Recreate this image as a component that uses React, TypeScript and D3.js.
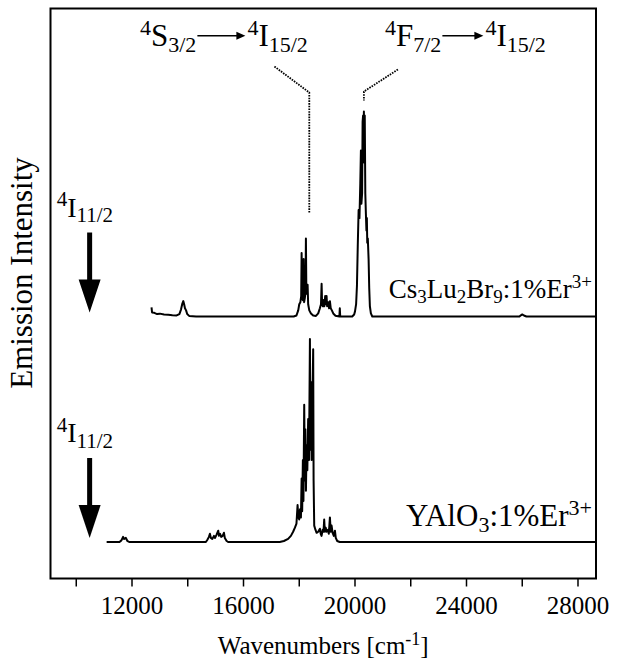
import React, { useEffect, useRef } from "react"
import * as d3 from "d3"

// emission spectra: [wavenumber (cm-1), intensity (a.u., max ~100)]
const cs3Lu2Br9: [number, number][] = [
  [12700, 4.5], [12720, 2], [12800, 1.8], [12900, 1.2], [13000, 1.4], [13150, 1],
  [13300, 0.8], [13450, 0.6], [13600, 0.5], [13700, 1.2], [13760, 3.5], [13800, 6],
  [13840, 7.5], [13870, 6], [13900, 4], [13940, 3], [13980, 1.2], [14050, 0.3],
  [14300, 0], [17800, 0], [17900, 0.5], [17963, 3], [18000, 6], [18040, 7],
  [18070, 10], [18085, 31], [18100, 9], [18130, 8], [18157, 28], [18175, 7],
  [18200, 9], [18225, 12], [18239, 38], [18255, 12], [18280, 11], [18300, 15.5],
  [18320, 6], [18360, 3], [18420, 1.5], [18500, 0.5], [18600, 0.3], [18680, 1.5],
  [18740, 4], [18780, 6], [18802, 16], [18820, 6], [18850, 5], [18880, 8],
  [18900, 5], [18930, 10], [18950, 6], [18980, 10], [19000, 5], [19040, 7],
  [19070, 4], [19100, 7.5], [19130, 4], [19170, 3], [19220, 1.5], [19300, 0.4],
  [19440, 0], [19455, 4], [19470, 0], [19900, 0], [19970, 1], [20000, 2.5],
  [20040, 6], [20070, 15], [20100, 35], [20130, 52], [20160, 48], [20190, 65],
  [20212, 81], [20230, 55], [20255, 60], [20273, 95], [20290, 98], [20305, 85],
  [20319, 100], [20335, 75], [20350, 98], [20370, 60], [20391, 50], [20410, 42],
  [20425, 48], [20440, 36], [20460, 38], [20488, 28], [20510, 14], [20534, 5],
  [20570, 1.5], [20620, 0], [25900, 0], [25950, 0.6], [26000, 1], [26060, 0.5],
  [26150, 0], [28646, 0],
]

const yAlO3: [number, number][] = [
  [11090, 0], [11550, 0], [11620, 0.8], [11680, 2.5], [11720, 1.5], [11780, 2],
  [11830, 0.6], [11900, 0], [14650, 0], [14700, 1], [14760, 2.5], [14795, 4],
  [14830, 2], [14880, 1.5], [14940, 3], [14980, 2], [15030, 3.5], [15060, 4.5],
  [15093, 5.5], [15120, 3], [15160, 4], [15200, 2.5], [15250, 3], [15297, 4.5],
  [15330, 2], [15395, 0.5], [15450, 0], [17300, 0], [17450, 0.5], [17600, 1.5],
  [17700, 3], [17780, 5], [17845, 7], [17900, 9], [17940, 18], [17970, 12],
  [17998, 11], [18030, 16], [18060, 12], [18085, 31], [18105, 15], [18130, 40],
  [18150, 20], [18178, 67], [18200, 30], [18220, 55], [18240, 25], [18263, 47],
  [18290, 35], [18320, 60], [18350, 40], [18383, 99], [18400, 45], [18420, 78],
  [18443, 40], [18470, 65], [18500, 94], [18515, 30], [18537, 8], [18580, 6],
  [18623, 4.5], [18680, 5], [18741, 6.5], [18770, 4], [18800, 3], [18840, 6],
  [18870, 5], [18895, 11], [18920, 5], [18950, 7], [18980, 5], [19030, 6],
  [19060, 4], [19100, 12], [19130, 5], [19160, 8], [19197, 4.5], [19240, 3],
  [19280, 5.5], [19310, 2], [19362, 0.5], [19450, 0], [28646, 0],
]

// vertical offsets of the two stacked traces (same units as intensity)
const traceOffsets = [127.8, 17.8]

const tickValues = [10000, 12000, 14000, 16000, 18000, 20000, 22000, 24000, 26000, 28000]
const tickLabels = ["", "12000", "", "16000", "", "20000", "", "24000", "", "28000"]

type Part = [string, "n" | "sup" | "sub"]

const serif = "Liberation Serif, Tinos, DejaVu Serif, serif"

function richText(g: any, x: number, y: number, parts: Part[], big: number, small: number, anchor = "start") {
  const text = g.append("text")
    .attr("x", x).attr("y", y)
    .style("font-family", serif)
    .attr("text-anchor", anchor)
    .attr("fill", "#000")
  let cur = 0
  parts.forEach(([s, kind]) => {
    const target = kind === "sup" ? -big * 0.36 : kind === "sub" ? big * 0.2 : 0
    text.append("tspan")
      .attr("dy", target - cur)
      .attr("font-size", kind === "n" ? big : small)
      .text(s)
    cur = target
  })
  return text
}

// "from -> to" label with a long drawn arrow in the middle
function transition(g: any, x: number, y: number, from: Part[], to: Part[], len: number) {
  const big = 31
  const small = 22
  const a = richText(g, x, y, from, big, small)
  const w = a.node().getBBox().width
  const ax = x + w + 1
  const ay = y - big * 0.33
  g.append("line")
    .attr("x1", ax).attr("x2", ax + len - 4)
    .attr("y1", ay).attr("y2", ay)
    .attr("stroke", "#000").attr("stroke-width", 1.4)
  g.append("path")
    .attr("d", `M${ax + len - 9},${ay - 4}L${ax + len},${ay}L${ax + len - 9},${ay + 4}Z`)
    .attr("fill", "#000")
  richText(g, ax + len + 2, y, to, big, small)
}

export default function App() {
  const ref = useRef<SVGSVGElement>(null)

  useEffect(() => {
    const svg = d3.select(ref.current)
    svg.selectAll("*").remove()

    const width = 622
    const height = 662
    const margin = { top: 8.5, left: 50.5, bottom: 83.5, right: 26 }
    const innerWidth = width - margin.left - margin.right
    const innerHeight = height - margin.top - margin.bottom

    const x = d3.scaleLinear().domain([9076, 28646]).range([0, innerWidth])
    const y = d3.scaleLinear().domain([0, innerHeight / 2.05]).range([innerHeight, 0])

    const group = svg.append("g")
      .attr("transform", `translate(${margin.left},${margin.top})`)

    // spectra
    const series = [cs3Lu2Br9, yAlO3]
    series.forEach((data, i) => {
      const line = d3.line<[number, number]>()
        .x(d => x(d[0]))
        .y(d => y(d[1] + traceOffsets[i]))
      group.append("path")
        .datum(data)
        .attr("d", line)
        .attr("fill", "none")
        .attr("stroke", "#000")
        .attr("stroke-width", 2)
        .attr("stroke-linejoin", "round")
    })

    // frame
    group.append("rect")
      .attr("x", 0).attr("y", 0)
      .attr("width", innerWidth).attr("height", innerHeight)
      .attr("fill", "none")
      .attr("stroke", "#000")
      .attr("stroke-width", 2)

    // ticks
    const ticks = group.append("g").attr("transform", `translate(0,${innerHeight})`)
    tickValues.forEach((v, i) => {
      ticks.append("line")
        .attr("x1", x(v)).attr("x2", x(v))
        .attr("y1", 0).attr("y2", 8)
        .attr("stroke", "#000").attr("stroke-width", 1.5)
      if (tickLabels[i]) {
        ticks.append("text")
          .attr("x", x(v)).attr("y", 35)
          .attr("text-anchor", "middle")
          .style("font-family", serif)
          .attr("font-size", 25)
          .text(tickLabels[i])
      }
    })

    // axis titles
    richText(svg, margin.left + innerWidth / 2, 654,
      [["Wavenumbers [cm", "n"], ["-1", "sup"], ["]", "n"]], 25, 18, "middle")

    svg.append("text")
      .attr("transform", `translate(32,${273}) rotate(-90)`)
      .attr("text-anchor", "middle")
      .style("font-family", serif)
      .attr("font-size", 31)
      .text("Emission Intensity")

    // sample labels
    richText(group, innerWidth - 4, y(traceOffsets[0]) - 19,
      [["Cs", "n"], ["3", "sub"], ["Lu", "n"], ["2", "sub"], ["Br", "n"], ["9", "sub"], [":1%Er", "n"], ["3+", "sup"]],
      27, 19, "end")
    richText(group, innerWidth - 4, y(traceOffsets[1]) - 16,
      [["YAlO", "n"], ["3", "sub"], [":1%Er", "n"], ["3+", "sup"]],
      31, 22, "end")

    // transition labels
    transition(svg, 140, 46,
      [["4", "sup"], ["S", "n"], ["3/2", "sub"]],
      [["4", "sup"], ["I", "n"], ["15/2", "sub"]], 48)
    transition(svg, 385, 46,
      [["4", "sup"], ["F", "n"], ["7/2", "sub"]],
      [["4", "sup"], ["I", "n"], ["15/2", "sub"]], 41)

    // dotted leader lines
    const leaders = [
      [[17110, 58], [18360, 84], [18360, 204]],
      [[21540, 61], [20320, 83], [20320, 92]],
    ]
    leaders.forEach(pts => {
      group.append("path")
        .attr("d", d3.line()(pts.map(p => [x(p[0]), p[1]]) as [number, number][]))
        .attr("fill", "none")
        .attr("stroke", "#000")
        .attr("stroke-width", 1.8)
        .attr("stroke-dasharray", "1.6,1.1")
    })

    // 4I11/2 arrows
    const arrowX = x(10480)
    traceOffsets.forEach(off => {
      const tip = y(off) - 4
      richText(group, arrowX - 33, tip - 96,
        [["4", "sup"], ["I", "n"], ["11/2", "sub"]], 28, 21)
      group.append("rect")
        .attr("x", arrowX - 2.5).attr("y", tip - 80)
        .attr("width", 5).attr("height", 50)
        .attr("fill", "#000")
      group.append("path")
        .attr("d", `M${arrowX - 11},${tip - 33}L${arrowX + 11},${tip - 33}L${arrowX},${tip}Z`)
        .attr("fill", "#000")
    })
  }, [])

  return (
    <svg ref={ref} width={622} height={662}
      style={{ position: "absolute", left: 0, top: 0, background: "#fff" }} />
  )
}
